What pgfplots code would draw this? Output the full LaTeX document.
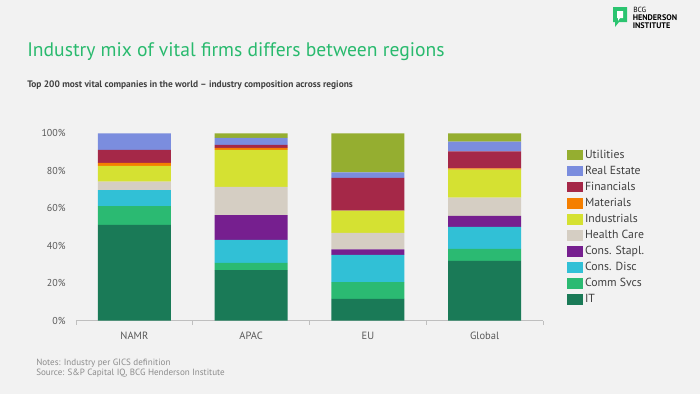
\documentclass[border=0pt]{standalone}
\usepackage{pgfplots}
\pgfplotsset{compat=1.18}
\usepackage{fontspec}
\setmainfont{PT Sans}
\definecolor{bg}{HTML}{F2F2F2}
\definecolor{titlegreen}{RGB}{41,186,110}
\definecolor{subgray}{HTML}{404040}
\definecolor{tickgray}{HTML}{595959}
\definecolor{notegray}{HTML}{8C8C8C}
\definecolor{axgray}{HTML}{BFBFBF}
\definecolor{cUtil}{HTML}{95AE30}
\definecolor{cRE}{HTML}{7B8DDE}
\definecolor{cFin}{HTML}{A52848}
\definecolor{cMat}{HTML}{F57F00}
\definecolor{cInd}{HTML}{D5E132}
\definecolor{cHC}{HTML}{D5CEC3}
\definecolor{cCS}{HTML}{761F8F}
\definecolor{cCD}{HTML}{31C0D6}
\definecolor{cComm}{HTML}{2BBA72}
\definecolor{cIT}{HTML}{1A7A57}
\definecolor{logogreen}{HTML}{2BC470}

\pgfplotstableread{
x IT Comm CD CS HC Ind Mat Fin RE Util
0 51.1 10.1 8.5 0.0 4.5 8.4 1.6 6.9 8.9 0.0
1 27.0 3.8 12.3 13.3 15.0 19.7 1.1 1.6 3.7 2.5
2 11.6 9.0 14.5 3.0 8.7 11.9 0.0 17.5 3.0 20.8
3 31.9 6.4 11.7 5.9 9.8 14.9 0.7 9.1 5.2 4.4
}\datatable

\begin{document}
\begin{tikzpicture}[x=0.75pt,y=0.75pt]
\path[use as bounding box] (0,0) rectangle (700,394);
\fill[bg] (0,0) rectangle (700,394);
% title
\node[anchor=base west, inner sep=0pt, text=titlegreen, font=\fontsize{14.7}{17}\selectfont] at (27,394-56) {Industry mix of vital firms differs between regions};
\node[anchor=base west, inner sep=0pt, text=subgray, font=\fontsize{7.05}{8}\selectfont\bfseries] at (27,394-87) {Top 200 most vital companies in the world -- industry composition across regions};
% notes
\node[anchor=base west, inner sep=0pt, text=notegray, font=\fontsize{6.8}{8}\selectfont] at (36,394-365.5) {Notes: Industry per GICS definition};
\node[anchor=base west, inner sep=0pt, text=notegray, font=\fontsize{6.8}{8}\selectfont] at (36,394-375) {Source: S\&P Capital IQ, BCG Henderson Institute};
% logo
\fill[logogreen] (613,394-7) -- (627,394-7) -- (627,394-22) -- (619,394-22) -- (615,394-27) -- (615,394-22) -- (613,394-22) -- cycle;
\fill[white] (617,394-11) -- (623,394-11) -- (623,394-18) -- (620,394-18) -- (618,394-21) -- (618,394-18) -- (617,394-18) -- cycle;
\node[anchor=base west, inner sep=0pt, font=\fontsize{5.6}{6}\selectfont] at (633,394-12.5) {BCG};
\node[anchor=base west, inner sep=0pt, font=\fontsize{6.1}{6}\selectfont\bfseries] at (632.5,394-20) {HENDERSON};
\node[anchor=base west, inner sep=0pt, font=\fontsize{6.1}{6}\selectfont\bfseries] at (632.5,394-28) {INSTITUTE};

\begin{axis}[
  at={(57pt,54.98pt)}, anchor=south west,
  scale only axis, width=350.25pt, height=140.55pt,
  ybar stacked, bar width=54.75pt,
  xmin=-0.5, xmax=3.5, ymin=0, ymax=100,
  xtick={0,1,2,3}, xticklabels={NAMR,APAC,EU,Global},
  minor xtick={-0.5,0.5,1.5,2.5,3.5},
  ytick={0,20,40,60,80,100},
  yticklabels={0\%,20\%,40\%,60\%,80\%,100\%},
  axis lines*=left,
  y axis line style={draw=none},
  x axis line style={axgray, line width=0.6pt},
  ytick style={draw=none},
  major x tick style={draw=none},
  minor x tick style={axgray, line width=0.6pt},
  minor tick length=3pt,
  tick align=outside,
  ticklabel style={text=tickgray, font=\fontsize{7.5}{8}\selectfont},
  xticklabel style={yshift=-1pt, font=\fontsize{7.9}{8}\selectfont},
  yticklabel style={xshift=0pt},
  clip=false,
  reverse legend,
  legend style={at={(1.051,0.914)}, anchor=north west, draw=none, fill=none,
    inner sep=0pt, row sep=4.05pt, font=\fontsize{8.8}{9}\selectfont, text=subgray,
    nodes={inner xsep=1.5pt, inner ysep=0pt, text height=6pt, text depth=1.5pt}},
  legend cell align=left,
  every axis plot/.append style={draw=none,
    legend image code/.code={\fill[##1] (0pt,-4pt) rectangle (12pt,4pt);}},
]
\addplot+[fill=cIT] table[x=x,y=IT]{\datatable};
\addplot+[fill=cComm] table[x=x,y=Comm]{\datatable};
\addplot+[fill=cCD] table[x=x,y=CD]{\datatable};
\addplot+[fill=cCS] table[x=x,y=CS]{\datatable};
\addplot+[fill=cHC] table[x=x,y=HC]{\datatable};
\addplot+[fill=cInd] table[x=x,y=Ind]{\datatable};
\addplot+[fill=cMat] table[x=x,y=Mat]{\datatable};
\addplot+[fill=cFin] table[x=x,y=Fin]{\datatable};
\addplot+[fill=cRE] table[x=x,y=RE]{\datatable};
\addplot+[fill=cUtil] table[x=x,y=Util]{\datatable};
\legend{IT,Comm Svcs,Cons. Disc,Cons. Stapl.,Health Care,Industrials,Materials,Financials,Real Estate,Utilities}
\end{axis}
\end{tikzpicture}
\end{document}
